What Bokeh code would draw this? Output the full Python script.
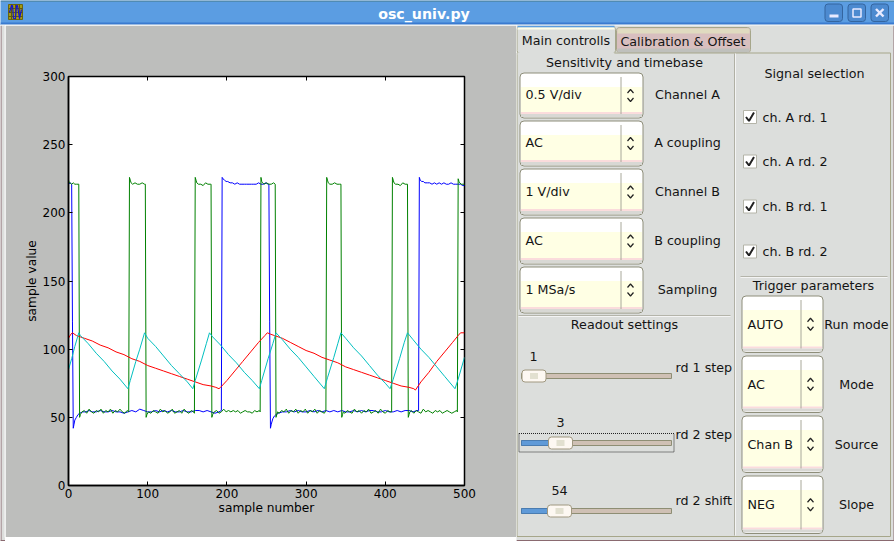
from bokeh.plotting import figure
from bokeh.layouts import column, row
from bokeh.models import Range1d, FixedTicker, LinearAxis
from bokeh.core.properties import value
from bokeh.embed import file_html
from bokeh.resources import INLINE

# ---------- chart data ----------
x_ticks = [0, 100, 200, 300, 400, 500]
y_ticks = [0, 50, 100, 150, 200, 250, 300]
x_title = "sample number"
y_title = "sample value"

blue_x = [0,2,4,5,6,7,8,10,12,14,18,22,26,30,35,40,45,50,55,60,65,70,75,80,85,90,95,100,105,110,115,120,125,130,135,140,145,150,155,160,165,170,175,180,185,190,193,
          194,195,197,199,201,204,207,210,213,216,219,222,225,228,231,234,237,240,243,246,249,252,253,
          254,255,256,258,260,262,265,270,275,280,285,290,295,300,305,310,315,320,325,330,335,340,345,350,355,360,365,370,375,380,385,390,395,400,405,410,415,420,425,430,435,440,442,
          443,444,446,448,450,453,456,459,462,465,468,471,474,477,480,483,486,489,492,495,498,500]
blue_y = [221,222,221,120,42,45,48,50,52,53,54,54,55,54,54,55,54,54,55,54,54,53,54,55,54,56,55,54,54,55,54,55,54,55,54,54,55,54,54,55,55,54,55,54,53,54,55,
          226,225,224,223,223,222,222,221,222,221,221,221,221,221,221,221,221,222,221,221,222,221,221,
          120,42,45,49,51,52,53,54,54,55,54,55,54,54,55,54,55,54,55,54,55,54,55,54,54,55,54,55,54,55,55,54,54,55,54,54,55,54,55,55,54,55,55,
          226,224,223,223,222,222,222,221,222,221,222,221,222,221,221,222,221,221,221,221,220,220]

green_x = [0,1,2,4,6,8,10,12,13,14,15,17,20,23,26,29,32,35,38,41,44,47,50,53,56,59,62,65,68,71,74,76,
           77,78,79,81,84,87,90,93,96,97,98,99,101,104,107,110,113,116,119,122,125,128,131,134,137,140,143,146,149,152,155,158,159,
           160,161,162,164,167,170,173,176,179,180,181,182,184,187,190,193,196,199,202,205,208,211,214,217,220,223,226,229,232,235,238,241,242,
           243,244,245,247,250,253,256,259,261,262,263,264,266,269,272,275,278,281,284,287,290,293,296,299,302,305,308,311,314,317,320,323,325,
           326,327,328,330,333,336,339,342,344,345,346,347,349,352,355,358,361,364,367,370,373,376,379,382,385,388,391,394,397,400,403,406,408,
           409,410,411,413,416,419,422,425,428,429,430,431,433,436,439,442,445,448,451,454,457,460,463,466,469,472,475,478,481,484,487,490,491,
           492,493,494,496,498,500]
green_y = [224,222,222,221,222,221,221,221,221,50,52,54,55,53,56,54,53,55,54,56,53,55,54,56,53,55,54,56,54,53,55,54,
           226,224,222,221,222,221,221,222,221,221,50,52,54,53,55,54,53,56,54,55,53,54,56,53,54,55,53,56,54,53,55,54,53,
           226,224,222,221,221,220,222,221,221,221,50,52,54,55,53,54,56,54,55,54,55,54,55,53,54,55,54,54,53,55,54,55,54,
           226,223,222,221,222,221,221,222,221,50,52,54,53,55,54,56,53,55,54,56,53,55,54,56,53,55,54,56,53,55,54,53,55,
           226,224,222,221,221,222,221,221,221,50,52,54,53,55,54,53,56,54,55,53,55,54,56,53,54,55,53,56,54,53,55,54,54,
           226,224,222,221,221,220,222,221,221,50,52,54,55,53,55,54,53,56,54,55,54,53,55,54,55,53,54,55,54,53,54,55,54,
           225,223,222,221,221,221]

red_x = [0,3,5,10,15,20,30,40,50,60,70,80,90,100,110,120,130,140,150,160,170,180,186,190,192,
         200,210,220,230,240,248,251,255,260,270,280,290,300,310,320,330,340,350,360,370,380,390,400,410,420,430,436,438,
         445,455,465,475,485,492,495,500]
red_y = [108,111,112,110,109,108,106,103,101,98,96,93,91,88,86,84,82,80,78,76,74,73,72,71,72,
         77,84,91,98,105,110,112,111,110,108,105,102,99,97,94,92,90,87,85,83,81,79,77,75,73,72,71,70,
         76,83,91,98,105,110,112,112]

cyan_x = [0,4,8,13,15,25,35,45,55,65,75,78,85,90,96,100,110,120,130,140,150,157,160,168,174,178,182,192,202,212,222,232,241,244,252,258,262,
          270,280,290,300,310,323,327,335,340,344,350,360,370,380,390,400,406,410,418,424,428,435,445,455,465,475,488,492,500]
cyan_y = [85,93,102,112,110,104,97,91,84,78,71,77,91,100,112,108,102,95,88,82,76,71,77,92,104,112,109,103,96,90,83,77,71,77,93,104,112,
          107,100,94,87,80,71,79,94,104,112,108,101,95,88,81,75,71,78,93,105,112,107,100,94,87,80,71,78,94]

# ---------- the dialog's texts ----------
combo_left_text = ["0.5 V/div", "AC", "1 V/div", "AC", "1 MSa/s"]
combo_left_label = ["Channel A", "A coupling", "Channel B", "B coupling", "Sampling"]
check_text = ["ch. A rd. 1", "ch. A rd. 2", "ch. B rd. 1", "ch. B rd. 2"]
combo_right_text = ["AUTO", "AC", "Chan B", "NEG"]
combo_right_label = ["Run mode", "Mode", "Source", "Slope"]
slider_value = ["1", "3", "54"]
slider_label = ["rd 1 step", "rd 2 step", "rd 2 shift"]

FONT = value("DejaVu Sans")
GREY = "#bdbebc"
PANEL = "#dcdedc"
TXT = "#141414"
EDGE = "#8a6a70"


def bare(w, h, xr, yr, bg):
    f = figure(width=w, height=h, x_range=Range1d(*xr), y_range=Range1d(*yr),
               x_axis_type=None, y_axis_type=None, output_backend="svg",
               toolbar_location=None, min_border=0, background_fill_color=bg,
               border_fill_color=bg, outline_line_color=None, tools="")
    f.grid.visible = False
    return f


# ---------- title bar (coordinates are window pixels) ----------
t = bare(894, 25, (0, 894), (25, 0), "#5b9de2")
t.quad(left=[0], right=[894], top=[0], bottom=[1], fill_color="#467a84", line_color=None)
t.quad(left=[0], right=[894], top=[22], bottom=[24], fill_color="#3a7bd0", line_color=None)
t.quad(left=[0], right=[894], top=[24], bottom=[25], fill_color="#eeeeee", line_color=None)
# window icon
t.quad(left=[8], right=[22], top=[4], bottom=[19], fill_color="#a39a10", line_color="#6a6410")
t.multi_line([[8, 22], [8, 22], [8, 22], [11, 11], [15, 15], [19, 19]],
             [[8, 8], [12, 12], [16, 16], [4, 19], [4, 19], [4, 19]], line_color="#5f5a08", line_width=1)
t.line([9, 11, 12, 13, 15, 16, 17, 19, 21], [12, 5, 5, 18, 18, 5, 5, 18, 9], line_color="#1414d8", line_width=1.2)
t.text(x=[423.5], y=[13], text=["osc_univ.py"], text_font=FONT, text_font_style="bold",
       text_font_size="14.2px", text_color="#ffffff", text_align="center", text_baseline="middle")
for l, r in [(824.5, 842), (847.5, 865), (870.5, 888)]:
    t.quad(left=[l], right=[r], top=[3.5], bottom=[21], fill_color="#4c8ad0", line_color="#34659f", border_radius=3)
t.quad(left=[829], right=[838], top=[14], bottom=[17], fill_color="#e8eaff", line_color=None)
t.quad(left=[852.5], right=[860.5], top=[8.5], bottom=[16.5], fill_color=None, line_color="#e8eaff", line_width=1.5)
t.multi_line([[875.5, 883], [875.5, 883]], [[8.5, 16], [16, 8.5]], line_color="#e8eaff", line_width=2.4)

# ---------- window border round the chart area (window pixels) ----------
edge_left = bare(5, 516, (0, 5), (541, 25), PANEL)
edge_left.quad(left=[0], right=[1], top=[25], bottom=[541], fill_color=EDGE, line_color=None)
edge_left.quad(left=[4], right=[5], top=[25], bottom=[537], fill_color="#f6f6f6", line_color=None)
edge_left.quad(left=[0], right=[5], top=[539.5], bottom=[541], fill_color=EDGE, line_color=None)

edge_bottom = bare(511, 4, (5, 516), (541, 537), PANEL)
edge_bottom.quad(left=[5], right=[516], top=[537], bottom=[538], fill_color="#f6f6f6", line_color=None)
edge_bottom.quad(left=[5], right=[516], top=[539.5], bottom=[541], fill_color=EDGE, line_color=None)

# ---------- chart ----------
p = figure(width=511, height=512, x_range=Range1d(0, 500), y_range=Range1d(0, 300),
           output_backend="svg", toolbar_location=None, tools="",
           min_border_left=63, min_border_right=52, min_border_top=51, min_border_bottom=52,
           background_fill_color="#ffffff", border_fill_color=GREY,
           outline_line_color="#000000", outline_line_width=1.5)
p.grid.visible = False
for ax in (p.xaxis[0], p.yaxis[0]):
    ax.major_tick_in = 4
    ax.major_tick_out = 0
    ax.minor_tick_line_color = None
    ax.major_label_text_font = "DejaVu Sans"
    ax.major_label_text_font_size = "12px"
    ax.major_label_text_color = "#000000"
    ax.major_label_standoff = 3
    ax.axis_label_text_font = "DejaVu Sans"
    ax.axis_label_text_font_size = "12.2px"
    ax.axis_label_text_font_style = "normal"
    ax.axis_label_text_color = "#000000"
    ax.axis_line_color = "#000000"
    ax.axis_line_width = 1.5
p.xaxis[0].ticker = FixedTicker(ticks=x_ticks)
p.yaxis[0].ticker = FixedTicker(ticks=y_ticks)
p.xaxis[0].axis_label = x_title
p.yaxis[0].axis_label = y_title
p.xaxis[0].axis_label_standoff = 0
p.yaxis[0].axis_label_standoff = 1
for side, ticks in (("right", y_ticks), ("above", x_ticks)):
    a = LinearAxis(ticker=FixedTicker(ticks=ticks), major_tick_in=4, major_tick_out=0,
                   minor_tick_line_color=None, axis_line_color=None,
                   major_label_overrides={k: "" for k in ticks})
    p.add_layout(a, side)
p.line(blue_x, blue_y, line_color="#0000ff", line_width=1)
p.line(green_x, green_y, line_color="#008000", line_width=1)
p.line(red_x, red_y, line_color="#ff0000", line_width=1)
p.line(cyan_x, cyan_y, line_color="#00bfbf", line_width=1)

# ---------- control panel (coordinates are window pixels) ----------
g = bare(378, 516, (516, 894), (541, 25), PANEL)


def label(xs, ys, txt, align="center", size="12.7px"):
    g.text(x=xs, y=ys, text=txt, text_font=FONT, text_font_size=size, text_color=TXT,
           text_align=align, text_baseline="middle")


def chevron(cx, cy):
    g.multi_line([[cx - 3, cx, cx + 3], [cx - 3, cx, cx + 3]],
                 [[cy - 2.5, cy - 6, cy - 2.5], [cy + 2.5, cy + 6, cy + 2.5]],
                 line_color="#222222", line_width=1.2)


def combo(l, r, top, bot, div):
    g.quad(left=[l], right=[r], top=[top], bottom=[bot], fill_color="#ffffff", line_color="#8e8e7a", border_radius=4)
    band_t = top + 14
    band_b = bot - 6
    g.quad(left=[l + 1], right=[r - 1], top=[band_t], bottom=[band_b], fill_color="#ffffe4", line_color=None)
    g.quad(left=[l + 1], right=[r - 1], top=[band_b], bottom=[band_b + 2], fill_color="#fbdcdc", line_color=None)
    g.quad(left=[l + 1], right=[r - 1], top=[band_b + 2], bottom=[bot - 1], fill_color="#d8d8d4", line_color=None)
    g.segment([div], [top + 4], [div], [bot - 4], line_color="#a8a89a", line_width=1)
    chevron((div + r) / 2 - 1.5, (top + bot) / 2)


# tabs and frame
g.quad(left=[516.5], right=[890], top=[52.5], bottom=[536], fill_color=PANEL, line_color="#a6a68a", line_width=1)
g.quad(left=[616], right=[750], top=[27], bottom=[52], fill_color="#d8bfbf", line_color="#a6a68a", border_radius=3)
g.quad(left=[617], right=[749], top=[28], bottom=[33], fill_color="#e0dbc0", line_color=None)
g.quad(left=[617], right=[749], top=[48], bottom=[52], fill_color="#bfc0bc", line_color=None)
g.quad(left=[516.5], right=[615], top=[26], bottom=[53], fill_color=PANEL, line_color="#a6a68a", border_radius=3)
g.quad(left=[517], right=[614], top=[25], bottom=[27], fill_color="#5a9ddf", line_color=None)
g.quad(left=[517], right=[614], top=[27], bottom=[29], fill_color="#ffffe8", line_color=None)
g.quad(left=[517], right=[614], top=[52], bottom=[54], fill_color=PANEL, line_color=None)
label([565.5], [39.5], ["Main controlls"])
label([682.5], [40.5], ["Calibration & Offset"])

# window border on the right and at the bottom
g.quad(left=[893], right=[894], top=[25], bottom=[541], fill_color=EDGE, line_color=None)
g.quad(left=[516], right=[894], top=[539.5], bottom=[541], fill_color=EDGE, line_color=None)

# separators
g.segment([735], [53], [735], [535], line_color="#f4f4f4", line_width=1)
g.segment([734], [53], [734], [535], line_color="#b0b0a4", line_width=1)
g.segment([518, 740], [315, 276], [730, 887], [315, 276], line_color="#b4b4aa", line_width=1)
g.segment([518, 740], [316, 277], [730, 887], [316, 277], line_color="#f4f4f4", line_width=1)

# section headings
label([624, 814, 624, 813], [62, 73, 324, 285],
      ["Sensitivity and timebase", "Signal selection", "Readout settings", "Trigger parameters"])

# left combos
left_rows = [(72.5, 117.5), (120.5, 165.5), (168.5, 214.5), (217.5, 263.5), (266.5, 312.5)]
left_mid = [94, 142, 191, 240, 289]
for top, bot in left_rows:
    combo(519.5, 642.5, top, bot, 620.5)
label([525] * 5, left_mid, combo_left_text, "left")
label([687] * 5, left_mid, combo_left_label)

# check boxes
check_y = [116.5, 161, 206, 251]
for cy in check_y:
    g.quad(left=[743], right=[756], top=[cy - 6.5], bottom=[cy + 6.5], fill_color="#ffffff", line_color="#b4b4a8")
    g.line([745.5, 748.5, 753.5], [cy, cy + 4, cy - 4.5], line_color="#222222", line_width=2)
label([762] * 4, check_y, check_text, "left")

# right combos
right_rows = [(295.5, 352), (355.5, 412), (415.5, 472), (475.5, 533)]
right_mid = [323.5, 383.5, 443.5, 504]
for top, bot in right_rows:
    combo(741.5, 822.5, top, bot, 800.5)
label([747] * 4, right_mid, combo_right_text, "left")
label([856] * 4, right_mid, combo_right_label)

# sliders
slider_y = [375.5, 442.5, 510.5]
handle_l = [521.5, 548, 547]
value_x = [533, 560, 559]
value_y = [356, 422, 490]
label_y = [366.5, 433.5, 500]
g.quad(left=[518.5], right=[673.5], top=[433], bottom=[451.5], fill_color=None,
       line_color="#222222", line_dash="1 1", line_width=1)
for sy, hl in zip(slider_y, handle_l):
    g.quad(left=[521], right=[671], top=[sy - 2.5], bottom=[sy + 2.5], fill_color="#cfc0b4", line_color="#8e8e74")
    if hl > 522:
        g.quad(left=[521], right=[hl], top=[sy - 2.5], bottom=[sy + 2.5], fill_color="#5f9ad8", line_color="#4a7cb0")
    g.quad(left=[hl], right=[hl + 24], top=[sy - 6], bottom=[sy + 6], fill_color="#fdf8f2", line_color="#a09880", border_radius=3)
    g.quad(left=[hl + 8], right=[hl + 16], top=[sy - 3], bottom=[sy + 3], fill_color="#e2e0d0", line_color=None)
label(value_x, value_y, slider_value)
label([675] * 3, label_y, slider_label, "left")

chart_col = column(column(p), column(edge_bottom), spacing=0)
body = row(column(edge_left), chart_col, column(g), spacing=0)
layout = column(t, body, spacing=0)
open("out.html", "w").write(file_html(layout, INLINE))
